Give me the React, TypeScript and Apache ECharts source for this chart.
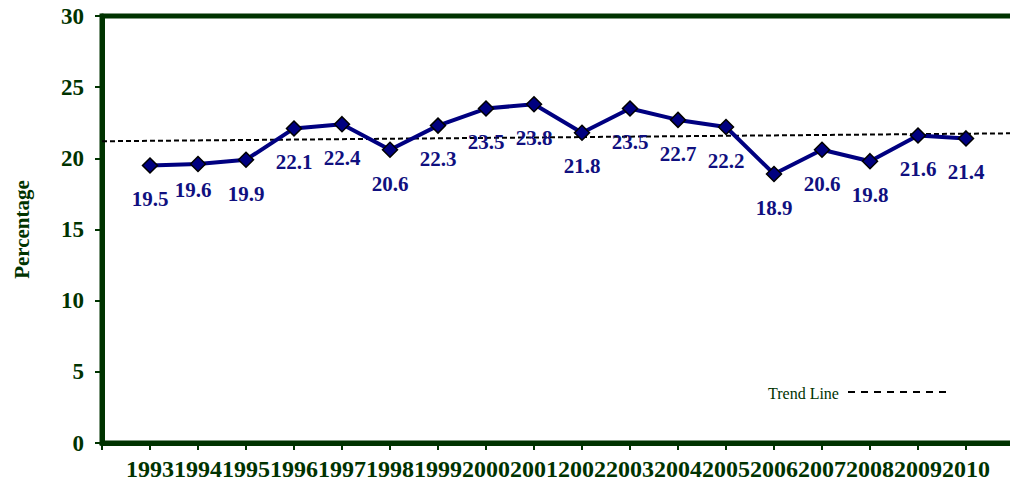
import React, { useEffect, useRef } from "react";
import * as echarts from "echarts";

const years = [1993, 1994, 1995, 1996, 1997, 1998, 1999, 2000, 2001, 2002, 2003, 2004, 2005, 2006, 2007, 2008, 2009, 2010];
const percentages = [19.5, 19.6, 19.9, 22.1, 22.4, 20.6, 22.3, 23.5, 23.8, 21.8, 23.5, 22.7, 22.2, 18.9, 20.6, 19.8, 21.6, 21.4];
const trendYears = [1992, 2011];
const trendValues = [21.2, 21.76];
const yTicks = [0, 5, 10, 15, 20, 25, 30];
const legendLabel = "Trend Line";

const GREEN = "#003300";
const NAVY = "#000080";
const SERIF = "'Liberation Serif', 'Times New Roman', serif";

export default function App() {
  const ref = useRef<HTMLDivElement>(null);
  useEffect(() => {
    if (!ref.current) return;
    const chart = echarts.init(ref.current, undefined, { renderer: "svg" });
    const lineData = years.map((y, i) => {
      const item: any = { value: [y, percentages[i]] };
      if (y === 1994) item.label = { offset: [-5, -8] };
      return item;
    });
    chart.setOption({
      animation: false,
      backgroundColor: "#ffffff",
      grid: {
        left: 102,
        width: 912,
        top: 16,
        bottom: 44,
        outerBoundsMode: "none",
        containLabel: false,
        show: true,
        borderColor: GREEN,
        borderWidth: 5,
        backgroundColor: "transparent",
      },
      graphic: [
        {
          type: "text",
          left: 768,
          top: 385,
          style: { text: legendLabel, fontFamily: SERIF, fontSize: 16, fill: GREEN },
        },
        {
          type: "line",
          shape: { x1: 848, y1: 392, x2: 950, y2: 392 },
          style: { stroke: "#000000", lineWidth: 2, lineDash: [7, 6] },
        },
      ],
      xAxis: {
        type: "value",
        min: trendYears[0],
        max: trendYears[1],
        interval: 1,
        splitLine: { show: false },
        axisLine: { show: true, lineStyle: { color: GREEN, width: 5 } },
        axisTick: { show: true, length: 7, lineStyle: { color: GREEN, width: 2 } },
        axisLabel: {
          margin: 14,
          fontFamily: SERIF,
          fontSize: 24,
          fontWeight: "bold",
          color: GREEN,
          formatter: (v: number) => (years.includes(v) ? String(v) : ""),
        },
      },
      yAxis: {
        type: "value",
        min: yTicks[0],
        max: yTicks[yTicks.length - 1],
        interval: 5,
        name: "Percentage",
        nameLocation: "middle",
        nameGap: 70,
        nameTextStyle: { fontFamily: SERIF, fontSize: 21, fontWeight: "bold", color: GREEN },
        splitLine: { show: false },
        axisLine: { show: true, lineStyle: { color: GREEN, width: 5 } },
        axisTick: { show: true, length: 7, lineStyle: { color: GREEN, width: 2 } },
        axisLabel: {
          margin: 18,
          fontFamily: SERIF,
          fontSize: 23,
          fontWeight: "bold",
          color: GREEN,
        },
      },
      series: [
        {
          name: "Trend Line",
          type: "line",
          data: trendYears.map((y, i) => [y, trendValues[i]]),
          symbol: "none",
          silent: true,
          lineStyle: { color: "#000000", width: 2, type: [5, 3] },
          z: 1,
        },
        {
          name: "Percentage",
          type: "line",
          data: lineData,
          symbol: "diamond",
          symbolSize: 15,
          lineStyle: { color: NAVY, width: 4 },
          itemStyle: { color: NAVY, borderColor: "#000000", borderWidth: 1.5 },
          label: {
            show: true,
            position: "bottom",
            distance: 15,
            fontFamily: SERIF,
            fontSize: 21,
            fontWeight: "bold",
            color: "#10107f",
          },
          z: 3,
        },
      ],
    });
    return () => chart.dispose();
  }, []);
  return (
    <div
      ref={ref}
      style={{ position: "fixed", left: 0, top: 0, width: 1010, height: 487, background: "#fff" }}
    />
  );
}
